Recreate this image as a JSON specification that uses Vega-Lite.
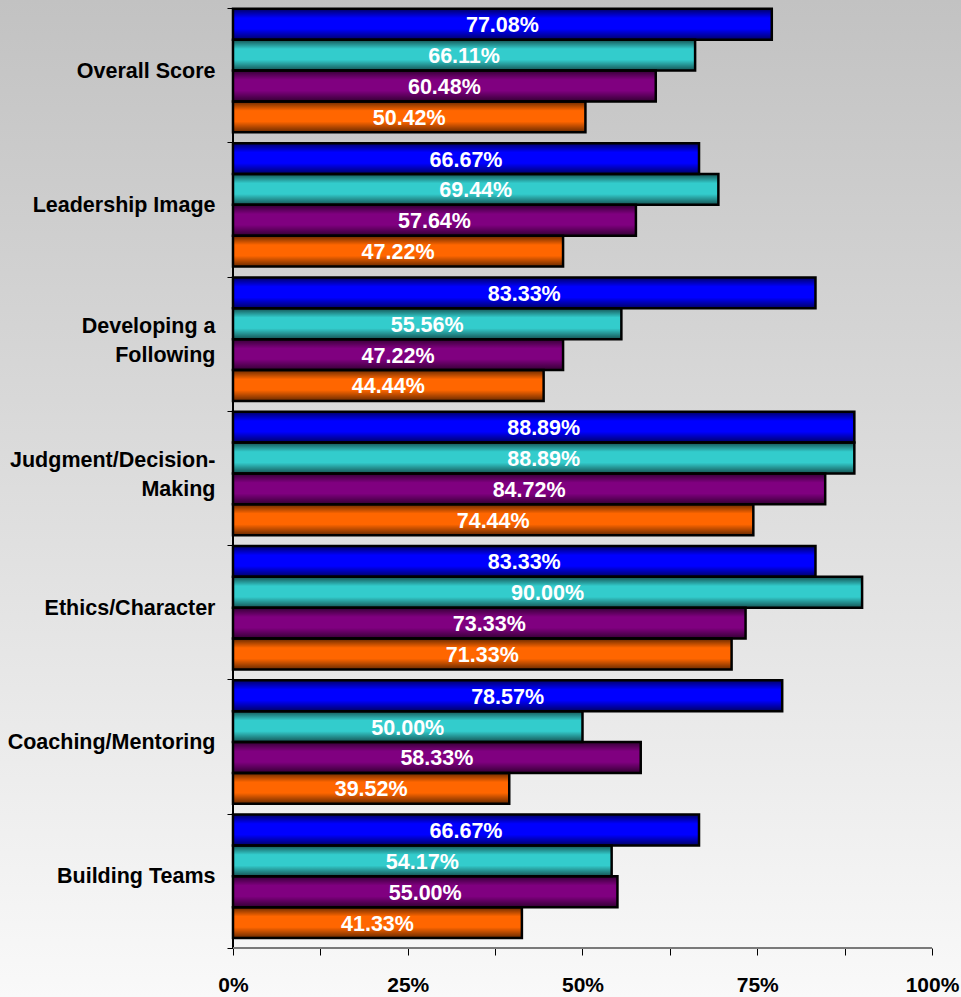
{
  "$schema": "https://vega.github.io/schema/vega-lite/v6.json",
  "width": 961,
  "height": 997,
  "autosize": {"type": "none"},
  "padding": 0,
  "background": "#f9f9f9",
  "config": {
    "view": {
      "stroke": null,
      "fill": {"gradient": "linear", "x1": 0, "y1": 0, "x2": 0, "y2": 1, "stops": [{"offset": 0, "color": "#c2c2c2"}, {"offset": 1, "color": "#f9f9f9"}]}
    },
    "font": "Liberation Sans"
  },
  "data": {
    "values": [
      {"category": "Overall Score", "series": "S1", "v": 0.7708},
      {"category": "Overall Score", "series": "S2", "v": 0.6611},
      {"category": "Overall Score", "series": "S3", "v": 0.6048},
      {"category": "Overall Score", "series": "S4", "v": 0.5042},
      {"category": "Leadership Image", "series": "S1", "v": 0.6667},
      {"category": "Leadership Image", "series": "S2", "v": 0.6944},
      {"category": "Leadership Image", "series": "S3", "v": 0.5764},
      {"category": "Leadership Image", "series": "S4", "v": 0.4722},
      {"category": "Developing a Following", "series": "S1", "v": 0.8333},
      {"category": "Developing a Following", "series": "S2", "v": 0.5556},
      {"category": "Developing a Following", "series": "S3", "v": 0.4722},
      {"category": "Developing a Following", "series": "S4", "v": 0.4444},
      {"category": "Judgment/Decision-Making", "series": "S1", "v": 0.8889},
      {"category": "Judgment/Decision-Making", "series": "S2", "v": 0.8889},
      {"category": "Judgment/Decision-Making", "series": "S3", "v": 0.8472},
      {"category": "Judgment/Decision-Making", "series": "S4", "v": 0.7444},
      {"category": "Ethics/Character", "series": "S1", "v": 0.8333},
      {"category": "Ethics/Character", "series": "S2", "v": 0.9},
      {"category": "Ethics/Character", "series": "S3", "v": 0.7333},
      {"category": "Ethics/Character", "series": "S4", "v": 0.7133},
      {"category": "Coaching/Mentoring", "series": "S1", "v": 0.7857},
      {"category": "Coaching/Mentoring", "series": "S2", "v": 0.5},
      {"category": "Coaching/Mentoring", "series": "S3", "v": 0.5833},
      {"category": "Coaching/Mentoring", "series": "S4", "v": 0.3952},
      {"category": "Building Teams", "series": "S1", "v": 0.6667},
      {"category": "Building Teams", "series": "S2", "v": 0.5417},
      {"category": "Building Teams", "series": "S3", "v": 0.55},
      {"category": "Building Teams", "series": "S4", "v": 0.4133}
    ]
  },
  "encoding": {
    "y": {
      "field": "category", "type": "nominal", "sort": null,
      "scale": {"paddingInner": 0, "paddingOuter": 0.2122, "align": 0.14},
      "axis": {
        "title": null, "offset": -233, "domain": false,
        "tickColor": "#000000", "tickSize": 6, "tickBand": "extent",
        "labelFont": "Liberation Sans", "labelFontSize": 21.5, "labelFontWeight": "bold", "labelColor": "#000000",
        "labelPadding": 12, "labelLineHeight": 29, "labelLimit": 300,
        "labelOffset": {"condition": {"test": "datum.value == 'Developing a Following' || datum.value == 'Judgment/Decision-Making'", "value": -17}, "value": -4},
        "labelExpr": "datum.label == 'Developing a Following' ? ['Developing a', 'Following'] : datum.label == 'Judgment/Decision-Making' ? ['Judgment/Decision-', 'Making'] : datum.label"
      }
    }
  },
  "layer": [
    {
      "layer": [
        {
          "mark": {"type": "bar", "stroke": null},
          "encoding": {
            "x": {
              "field": "v", "type": "quantitative",
              "scale": {"domain": [-0.333333, 1.041488], "nice": false, "zero": false},
              "axis": {
                "title": null, "offset": -49, "domain": false,
                "values": [0, 0.125, 0.25, 0.375, 0.5, 0.625, 0.75, 0.875, 1],
                "labelExpr": "(datum.value * 4) % 1 == 0 ? format(datum.value, '.0%') : ''",
                "grid": false,
                "tickColor": "#000000", "tickSize": 7,
                "labelFont": "Liberation Sans", "labelFontSize": 21, "labelFontWeight": "bold", "labelColor": "#000000",
                "labelPadding": 19, "labelFlush": false
              }
            },
            "x2": {"datum": 0},
            "yOffset": {"field": "series", "type": "nominal", "scale": {"paddingInner": 0, "paddingOuter": 0.175, "align": 0.08}},
            "color": {
              "field": "series", "type": "nominal", "legend": null,
              "scale": {"domain": ["S1", "S2", "S3", "S4"], "range": ["#0000ff", "#33cccc", "#800080", "#ff6600"]}
            }
          }
        },
        {
          "mark": {
            "type": "bar", "stroke": "#000000", "strokeWidth": 2.5,
            "fill": {"gradient": "linear", "x1": 0, "y1": 0, "x2": 0, "y2": 1, "stops": [
              {"offset": 0, "color": "rgba(0,0,0,0.6)"},
              {"offset": 0.3, "color": "rgba(0,0,0,0)"},
              {"offset": 0.65, "color": "rgba(0,0,0,0)"},
              {"offset": 1, "color": "rgba(0,0,0,0.6)"}
            ]}
          },
          "encoding": {
            "x": {"field": "v", "type": "quantitative"},
            "x2": {"datum": 0},
            "yOffset": {"field": "series", "type": "nominal"}
          }
        },
        {
          "mark": {"type": "rect", "fill": null, "stroke": "#000000", "strokeWidth": 1.5},
          "encoding": {
            "x": {"datum": 0},
            "x2": {"datum": 0}
          }
        },
        {
          "mark": {"type": "rule", "color": "#7a7a7a", "strokeWidth": 2},
          "encoding": {
            "x": {"datum": 0},
            "x2": {"datum": 1},
            "y": {"datum": "Building Teams", "bandPosition": 1}
          }
        }
      ]
    },
    {
      "mark": {"type": "text", "color": "#ffffff", "font": "Liberation Sans", "fontSize": 21.5, "fontWeight": "bold", "align": "center", "baseline": "middle", "dy": 2},
      "encoding": {
        "x": {"field": "v", "type": "quantitative", "scale": {"domain": [-0.666666, 2.082976], "nice": false, "zero": false}, "axis": null},
        "yOffset": {"field": "series", "type": "nominal"},
        "text": {"field": "v", "type": "quantitative", "format": ".2%"}
      }
    }
  ],
  "resolve": {"scale": {"x": "independent"}, "axis": {"x": "independent"}}
}
